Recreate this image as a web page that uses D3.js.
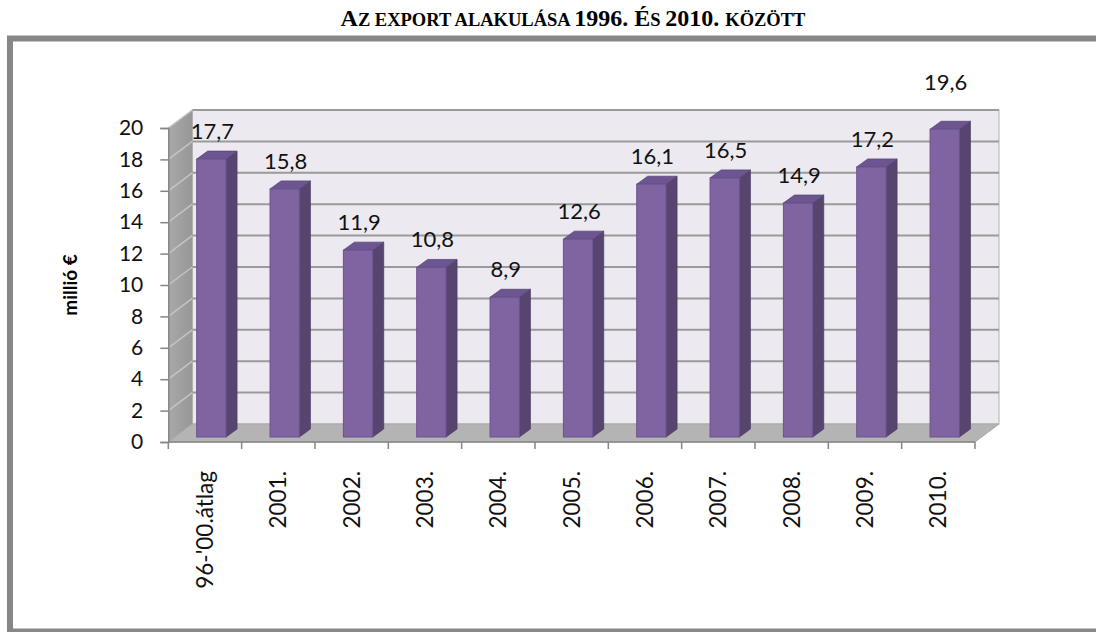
<!DOCTYPE html>
<html>
<head>
<meta charset="utf-8">
<script src="https://cdn.jsdelivr.net/npm/d3@7"></script>
<style>
  body { margin: 0; background: #fff; }
  text { font-family: Lato, "Open Sans", sans-serif; }
</style>
</head>
<body>
<div id="chart"></div>
<script>
// data
const categories = ["96-'00.átlag", '2001.', '2002.', '2003.', '2004.', '2005.', '2006.', '2007.', '2008.', '2009.', '2010.'];
const values = [17.7, 15.8, 11.9, 10.8, 8.9, 12.6, 16.1, 16.5, 14.9, 17.2, 19.6];
const yTicks = [0, 2, 4, 6, 8, 10, 12, 14, 16, 18, 20];
const yTitle = 'millió €';

const W = 1096, H = 632;

// plot geometry (front plane)
const x0 = 168.3, x1 = 975;
const yBottom = 442, yTop = 128;
// wall depth
const dx = 24, dy = -18;
// bars sit a little behind the front plane
const bOff = { x: 6.4, y: -5 };
const bDepth = { x: 11, y: -8 };

const svg = d3.select('#chart')
  .append('svg')
  .attr('width', W)
  .attr('height', H)
  .attr('xmlns', 'http://www.w3.org/2000/svg');

// title with small caps look
const title = svg.append('text')
  .attr('x', W / 2 + 25)
  .attr('y', 26)
  .attr('text-anchor', 'middle')
  .style('font-family', '"Liberation Serif", "Times New Roman", serif')
  .style('font-weight', 'bold')
  .attr('fill', '#000');
[['A', 24], ['Z EXPORT ALAKULÁSA ', 18.5], ['1996. É', 24], ['S ', 18.5], ['2010. ', 24], ['KÖZÖTT', 18.5]]
  .forEach(([t, s]) => {
    title.append('tspan').style('font-size', `${s}px`).text(t);
  });

// frame
svg.append('rect')
  .attr('x', 10)
  .attr('y', 38.5)
  .attr('width', 1100)
  .attr('height', 593)
  .attr('fill', 'none')
  .attr('stroke', '#878787')
  .attr('stroke-width', 6);

// scales
const xScale = d3.scaleBand()
  .domain(categories)
  .range([x0, x1])
  .padding(0);

const yScale = d3.scaleLinear()
  .domain([0, 20])
  .range([yBottom, yTop]);

const defs = svg.append('defs');
const lg = defs.append('linearGradient')
  .attr('id', 'leftWall')
  .attr('x1', '0').attr('x2', '1').attr('y1', '0').attr('y2', '0');
lg.append('stop').attr('offset', '0').attr('stop-color', '#a9a9a9');
lg.append('stop').attr('offset', '1').attr('stop-color', '#979797');

const walls = svg.append('g').attr('id', 'walls');

// back wall
walls.append('rect')
  .attr('x', x0 + dx)
  .attr('y', yScale(20) + dy)
  .attr('width', x1 - x0)
  .attr('height', yScale(0) - yScale(20))
  .attr('fill', '#eceaf0')
  .attr('stroke', '#b0b0b0')
  .attr('stroke-width', 1);

// left wall
walls.append('polygon')
  .attr('points', [
    [x0, yScale(0)], [x0, yScale(20)],
    [x0 + dx, yScale(20) + dy], [x0 + dx, yScale(0) + dy],
  ].join(' '))
  .attr('fill', 'url(#leftWall)');

// floor
walls.append('polygon')
  .attr('points', [
    [x0, yScale(0)], [x1, yScale(0)],
    [x1 + dx, yScale(0) + dy], [x0 + dx, yScale(0) + dy],
  ].join(' '))
  .attr('fill', '#b4b4b4')
  .attr('stroke', '#a8a8a8')
  .attr('stroke-width', 1);

// gridlines on back wall and left wall
const grid = svg.append('g').attr('id', 'grid');
yTicks.filter((v) => v > 0).forEach((v) => {
  grid.append('line')
    .attr('x1', x0 + dx)
    .attr('x2', x1 + dx)
    .attr('y1', yScale(v) + dy)
    .attr('y2', yScale(v) + dy)
    .attr('stroke', '#9a9a9a')
    .attr('stroke-width', 2);
  grid.append('line')
    .attr('x1', x0)
    .attr('x2', x0 + dx)
    .attr('y1', yScale(v))
    .attr('y2', yScale(v) + dy)
    .attr('stroke', '#c4c4c4')
    .attr('stroke-width', 1.5);
});

// y axis
const yAxis = d3.axisLeft(yScale)
  .tickValues(yTicks)
  .tickSize(8)
  .tickPadding(17);

const yg = svg.append('g')
  .attr('class', 'y axis')
  .attr('transform', `translate(${x0},0)`)
  .call(yAxis);
yg.select('.domain').attr('stroke', '#868686').attr('stroke-width', 1.5);
yg.selectAll('.tick line').attr('stroke', '#868686').attr('stroke-width', 1.5);
yg.selectAll('.tick text')
  .attr('fill', '#111')
  .style('font-size', '21px')
  .style('font-family', 'Lato, sans-serif');

// x axis: line + ticks on category boundaries
const xg = svg.append('g').attr('class', 'x axis');
xg.append('line')
  .attr('x1', x0).attr('x2', x1)
  .attr('y1', yBottom).attr('y2', yBottom)
  .attr('stroke', '#868686')
  .attr('stroke-width', 1.5);
categories.concat([null]).forEach((c) => {
  const xt = c === null ? x1 : xScale(c);
  xg.append('line')
    .attr('x1', xt).attr('x2', xt)
    .attr('y1', yBottom).attr('y2', yBottom + 7)
    .attr('stroke', '#868686')
    .attr('stroke-width', 1.5);
});
categories.forEach((c) => {
  const cx = xScale(c) + xScale.bandwidth() / 2;
  xg.append('text')
    .attr('transform', `translate(${cx},${yBottom + 29}) rotate(-90)`)
    .attr('text-anchor', 'end')
    .attr('dy', '0.36em')
    .attr('fill', '#111')
    .style('font-size', '22.5px')
    .text(c);
});

// y title
svg.append('text')
  .attr('transform', `translate(70,${(yBottom + yTop) / 2}) rotate(-90)`)
  .attr('text-anchor', 'middle')
  .attr('dy', '0.35em')
  .attr('fill', '#000')
  .style('font-size', '19px')
  .style('font-weight', 'bold')
  .text(yTitle);

// bars
const barW = xScale.bandwidth() * 0.4;
const bars = svg.append('g').attr('id', 'bars');
values.forEach((v, i) => {
  const bx = xScale(categories[i]) + (xScale.bandwidth() - barW) / 2 + bOff.x;
  const yb = yScale(0) + bOff.y;
  const yt = yScale(v) + bOff.y;
  const g = bars.append('g');
  // side
  g.append('polygon')
    .attr('points', [
      [bx + barW, yt], [bx + barW + bDepth.x, yt + bDepth.y],
      [bx + barW + bDepth.x, yb + bDepth.y], [bx + barW, yb],
    ].join(' '))
    .attr('fill', '#574570')
    .attr('stroke', '#4e3f66')
    .attr('stroke-width', 0.8);
  // top
  g.append('polygon')
    .attr('points', [
      [bx, yt], [bx + bDepth.x, yt + bDepth.y],
      [bx + barW + bDepth.x, yt + bDepth.y], [bx + barW, yt],
    ].join(' '))
    .attr('fill', '#6c5590')
    .attr('stroke', '#5a4878')
    .attr('stroke-width', 0.8);
  // front
  g.append('rect')
    .attr('x', bx)
    .attr('y', yt)
    .attr('width', barW)
    .attr('height', yb - yt)
    .attr('fill', '#8064a2')
    .attr('stroke', '#6a5290')
    .attr('stroke-width', 1);

  // value label; pushed above the wall when it would cross the top edge
  const wallTop = yScale(20) + dy;
  let ly = yt - 28;
  if (ly - 11 < wallTop) ly = wallTop - 28;
  bars.append('text')
    .attr('x', bx + barW / 2 + 1)
    .attr('y', ly)
    .attr('dy', '0.35em')
    .attr('text-anchor', 'middle')
    .attr('fill', '#111')
    .style('font-size', '22px')
    .text(String(v).replace('.', ','));
});
</script>
</body>
</html>
